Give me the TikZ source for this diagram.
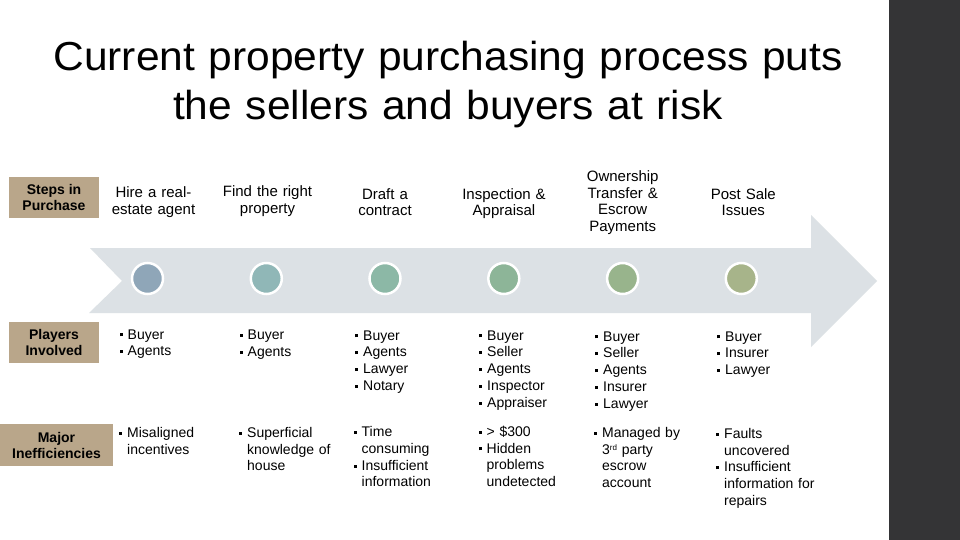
\documentclass[tikz,border=0pt]{standalone}
\usepackage{fontspec}
\setmainfont{Liberation Sans}
\newfontfamily\titlefont[FakeStretch=1.05]{Liberation Sans}
\definecolor{arrowgray}{RGB}{220,225,229}
\definecolor{darkbar}{RGB}{52,52,54}
\definecolor{tan}{RGB}{185,166,138}
\definecolor{cA}{RGB}{143,166,184}
\definecolor{cB}{RGB}{144,183,183}
\definecolor{cC}{RGB}{140,184,166}
\definecolor{cD}{RGB}{141,181,152}
\definecolor{cE}{RGB}{152,180,140}
\definecolor{cF}{RGB}{167,180,138}
\newcommand{\bul}{\makebox[8pt][l]{\rule[2.6pt]{3pt}{3pt}}}
\newcommand{\ind}{\hspace*{8pt}}
\begin{document}
\begin{tikzpicture}[x=1pt,y=-1pt,
  labelbox/.style={fill=tan,inner sep=0pt,align=center,font=\fontsize{14}{16}\selectfont\bfseries},
  steptitle/.style={inner sep=0pt,text width=110pt,align=center,anchor=base,font=\fontsize{15}{16.5}\selectfont},
  blist/.style={inner sep=0pt,text width=115pt,align=left,anchor=base west,font=\fontsize{14}{16.8}\selectfont},
  dot/.style={circle,minimum size=31pt,inner sep=0pt,draw=white,line width=2.5pt}]
\useasboundingbox (0,0) rectangle (960,540);
\fill[white] (0,0) rectangle (960,540);
\fill[darkbar] (889,0) rectangle (960,540);
% title
\node[inner sep=0pt,anchor=base,font=\titlefont\fontsize{40.5}{48.5}\selectfont,align=center,text width=880pt] (title) at (448,71) {Current property purchasing process puts\\the sellers and buyers at risk};
% arrow
\fill[arrowgray] (90,248) -- (811,248) -- (811,215) -- (877,281) -- (811,347) -- (811,313) -- (89,313) -- (122,281) -- cycle;
% label boxes
\node[labelbox,minimum width=90pt,minimum height=41pt] (lsteps) at (54,197.5) {Steps in\\Purchase};
\node[labelbox,minimum width=90pt,minimum height=41pt] (lplayers) at (54,342.5) {Players\\Involved};
\node[labelbox,minimum width=113pt,minimum height=42pt] (lineff) at (56.5,445) {Major\\Inefficiencies};
% step titles
\node[steptitle] (s1) at (153.5,197.7) {Hire a real-\\estate agent};
\node[steptitle] (s2) at (267.5,196.7) {Find the right\\property};
\node[steptitle] (s3) at (385,199) {Draft a\\contract};
\node[steptitle] (s4) at (504,199.3) {Inspection \&\\Appraisal};
\node[steptitle] (s5) at (622.7,181.7) {Ownership\\Transfer \&\\Escrow\\Payments};
\node[steptitle] (s6) at (743.3,199) {Post Sale\\Issues};
% circles
\node[dot,fill=cA] (d1) at (147.5,278.5) {};
\node[dot,fill=cB] (d2) at (266.3,278.5) {};
\node[dot,fill=cC] (d3) at (385,278.5) {};
\node[dot,fill=cD] (d4) at (503.8,278.5) {};
\node[dot,fill=cE] (d5) at (622.6,278.5) {};
\node[dot,fill=cF] (d6) at (741.3,278.5) {};
% players
\node[blist] (p1) at (119.5,339) {\bul Buyer\\\bul Agents};
\node[blist] (p2) at (239.5,339.5) {\bul Buyer\\\bul Agents};
\node[blist] (p3) at (355,340) {\bul Buyer\\\bul Agents\\\bul Lawyer\\\bul Notary};
\node[blist] (p4) at (479,340) {\bul Buyer\\\bul Seller\\\bul Agents\\\bul Inspector\\\bul Appraiser};
\node[blist] (p5) at (595,341) {\bul Buyer\\\bul Seller\\\bul Agents\\\bul Insurer\\\bul Lawyer};
\node[blist] (p6) at (717,341) {\bul Buyer\\\bul Insurer\\\bul Lawyer};
% inefficiencies
\node[blist] (i1) at (119,437.3) {\bul Misaligned\\\ind incentives};
\node[blist] (i2) at (239,437.3) {\bul Superficial\\\ind knowledge of\\\ind house};
\node[blist] (i3) at (353.5,436.5) {\bul Time\\\ind consuming\\\bul Insufficient\\\ind information};
\node[blist] (i4) at (478.5,436.2) {\bul > \$300\\\bul Hidden\\\ind problems\\\ind undetected};
\node[blist] (i5) at (594,437.3) {\bul Managed by\\\ind 3{\fontsize{8}{8}\selectfont\raisebox{3.5pt}{rd}} party\\\ind escrow\\\ind account};
\node[blist] (i6) at (716,438.3) {\bul Faults\\\ind uncovered\\\bul Insufficient\\\ind information for\\\ind repairs};
\end{tikzpicture}
\end{document}
